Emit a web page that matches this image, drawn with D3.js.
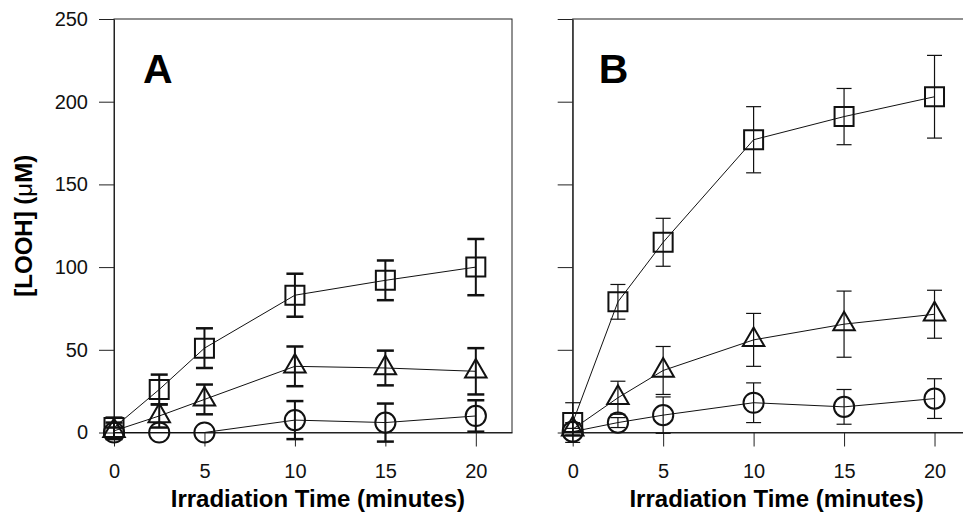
<!DOCTYPE html>
<html>
<head>
<meta charset="utf-8">
<script src="https://cdn.jsdelivr.net/npm/d3@7"></script>
<style>
  body { margin: 0; background: #fff; }
  svg { display: block; font-family: "Liberation Sans", Arial, sans-serif; }
</style>
</head>
<body>
<svg id="chart" width="963" height="516"></svg>
<script>
// irradiation times (minutes)
var times = [0, 2.5, 5, 10, 15, 20];
var xTicks = [0, 5, 10, 15, 20];
var yTicks = [0, 50, 100, 150, 200, 250];

// panel A
var aSquare = [3, 26, 51, 83, 92, 100];
var aSquareErr = [6, 9, 12, 13, 12, 17];
var aTriangle = [1, 10, 20, 40, 39, 37];
var aTriangleErr = [5, 7, 9, 12, 10.5, 14];
var aCircle = [0, 0, 0, 7.5, 6, 10];
var aCircleErr = [3, 0, 0, 11.5, 11.5, 9.5];

// panel B
var bSquare = [6, 79, 115, 177, 191, 203];
var bSquareErr = [12, 10.5, 14.5, 20, 17, 25];
var bTriangle = [2, 21, 37.5, 56, 65.5, 71.5];
var bTriangleErr = [4, 10, 14.5, 16, 20, 14.5];
var bCircle = [0.5, 6, 10.5, 18, 15.5, 20.5];
var bCircleErr = [2, 3, 11, 12, 10.5, 12];

var svg = d3.select('#chart');

var plotTop = 19, plotBottom = 432.5;
var y = d3.scaleLinear().domain([0, 250]).range([plotBottom, plotTop]);

//builds one panel
function drawPanel(opts) {
    var x = d3.scaleLinear().domain([0, 22]).range([opts.left, opts.left + 398]);
    var g = svg.append('g');

    // frame
    g.append('rect')
        .attr('x', opts.left).attr('y', plotTop)
        .attr('width', 398).attr('height', plotBottom - plotTop)
        .attr('fill', 'none').attr('stroke', '#222').attr('stroke-width', 1);

    var yAxis = d3.axisLeft(y).tickValues(yTicks).tickSize(15).tickSizeOuter(0).tickPadding(11);
    if (!opts.yLabels) yAxis.tickFormat('');
    g.append('g')
        .attr('transform', 'translate(' + opts.left + ',0)')
        .call(yAxis)
        .call(styleAxis);

    g.append('g')
        .attr('transform', 'translate(0,' + plotBottom + ')')
        .call(d3.axisBottom(x).tickValues(xTicks).tickSize(14).tickSizeOuter(0).tickPadding(17))
        .call(styleAxis);

    g.append('text')
        .attr('x', (x(0) + x(20)) / 2 + 23)
        .attr('y', 507)
        .attr('text-anchor', 'middle')
        .attr('font-size', 24)
        .attr('font-weight', 'bold')
        .text('Irradiation Time (minutes)');

    g.append('text')
        .attr('x', opts.left + opts.letterDx)
        .attr('y', 83)
        .attr('font-size', 41)
        .attr('font-weight', 'bold')
        .text(opts.letter);

    opts.series.forEach(function(s) {
        var pts = times.map(function(t, i) {
            return { t: t, v: s.values[i], e: s.errors[i] };
        });

        var line = d3.line().x(function(d) { return x(d.t); }).y(function(d) { return y(d.v); });
        g.append('path')
            .datum(pts)
            .attr('d', line)
            .attr('fill', 'none')
            .attr('stroke', '#111')
            .attr('stroke-width', 1);

        var bars = g.append('g')
            .attr('stroke', '#111')
            .attr('stroke-width', opts.barWidth);
        var withErr = pts.filter(function(d) { return d.e > 0; });
        bars.selectAll('line.v')
            .data(withErr).enter().append('line')
            .attr('x1', function(d) { return x(d.t); })
            .attr('x2', function(d) { return x(d.t); })
            .attr('y1', function(d) { return y(d.v + d.e); })
            .attr('y2', function(d) { return y(d.v - d.e); });
        [1, -1].forEach(function(sign) {
            bars.selectAll(null)
                .data(withErr).enter().append('line')
                .attr('x1', function(d) { return x(d.t) - opts.capHalf; })
                .attr('x2', function(d) { return x(d.t) + opts.capHalf; })
                .attr('y1', function(d) { return y(d.v + sign * d.e); })
                .attr('y2', function(d) { return y(d.v + sign * d.e); })
                .attr('stroke-width', opts.capWidth);
        });

        g.selectAll(null)
            .data(pts).enter().append('path')
            .attr('transform', function(d) { return 'translate(' + x(d.t) + ',' + y(d.v) + ')'; })
            .attr('d', d3.symbol().type(s.symbol).size(s.size))
            .attr('fill', 'none')
            .attr('stroke', '#111')
            .attr('stroke-width', 2);
    });
}

function styleAxis(sel) {
    sel.attr('font-size', 20).attr('font-family', '"Liberation Sans", Arial, sans-serif');
    sel.select('.domain').attr('stroke', '#222');
    sel.selectAll('.tick line').attr('stroke', '#222');
    sel.selectAll('.tick text').attr('fill', '#111');
}

drawPanel({
    left: 114, yLabels: true, letter: 'A', letterDx: 29,
    barWidth: 2, capWidth: 2.5, capHalf: 8.5,
    series: [
        { values: aSquare, errors: aSquareErr, symbol: d3.symbolSquare, size: 361 },
        { values: aTriangle, errors: aTriangleErr, symbol: d3.symbolTriangle, size: 200 },
        { values: aCircle, errors: aCircleErr, symbol: d3.symbolCircle, size: 320 }
    ]
});

drawPanel({
    left: 572.7, yLabels: false, letter: 'B', letterDx: 26,
    barWidth: 1.2, capWidth: 1.2, capHalf: 7.5,
    series: [
        { values: bSquare, errors: bSquareErr, symbol: d3.symbolSquare, size: 361 },
        { values: bTriangle, errors: bTriangleErr, symbol: d3.symbolTriangle, size: 200 },
        { values: bCircle, errors: bCircleErr, symbol: d3.symbolCircle, size: 320 }
    ]
});

// y axis title
var yt = svg.append('text')
    .attr('transform', 'translate(32,' + (plotTop + plotBottom) / 2 + ') rotate(-90)')
    .attr('text-anchor', 'middle')
    .attr('font-size', 24)
    .attr('font-weight', 'bold');
yt.append('tspan').text('[LOOH] (');
yt.append('tspan').attr('font-weight', 'normal').text('μ');
yt.append('tspan').text('M)');
</script>
</body>
</html>
